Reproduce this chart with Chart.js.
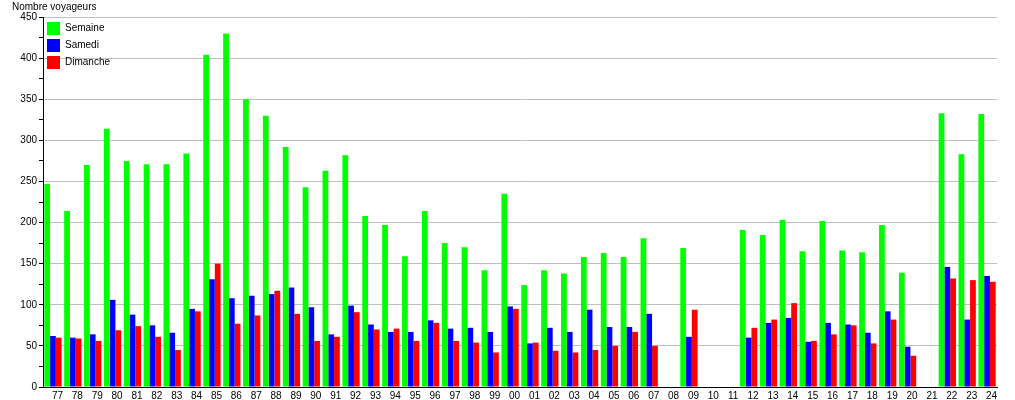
<!DOCTYPE html>
<html>
<head>
<meta charset="utf-8">
<script src="https://cdn.jsdelivr.net/npm/chart.js@4/dist/chart.umd.min.js"></script>
<style>
    body { margin: 0; background: #fff; }
    #wrap { position: relative; width: 1015px; height: 400px; }
    #ytitle { position: absolute; left: 12px; top: 1px; font: 10px "Liberation Sans", Arial, sans-serif; color: #000; }
</style>
</head>
<body>
<div id="wrap">
    <canvas id="voyageChart"></canvas>
    <div id="ytitle">Nombre voyageurs</div>
</div>
<script>
// Years (two digits) on the x axis
var years = ["77", "78", "79", "80", "81", "82", "83", "84", "85", "86", "87", "88",
    "89", "90", "91", "92", "93", "94", "95", "96", "97", "98", "99", "00",
    "01", "02", "03", "04", "05", "06", "07", "08", "09", "10", "11", "12",
    "13", "14", "15", "16", "17", "18", "19", "20", "21", "22", "23", "24"];

// Number of travellers per series (null = no data that year)
var semaine = [247, 214, 270, 314, 275, 271, 271, 284, 404, 430, 350, 330,
    292, 243, 263, 282, 208, 197, 159, 214, 175, 170, 142, 235,
    124, 142, 138, 158, 163, 158, 181, null, 169, null, null, 191,
    185, 203, 165, 202, 166, 164, 197, 139, null, 333, 283, 332];
var samedi = [62, 60, 64, 106, 88, 75, 66, 95, 131, 108, 111, 113,
    121, 97, 64, 99, 76, 67, 67, 81, 71, 72, 67, 98,
    53, 72, 67, 94, 73, 73, 89, null, 61, null, null, 60,
    78, 84, 55, 78, 76, 66, 92, 49, null, 146, 82, 135];
var dimanche = [60, 59, 56, 69, 74, 61, 45, 92, 150, 77, 87, 117,
    89, 56, 61, 91, 70, 71, 56, 78, 56, 54, 42, 95,
    54, 44, 42, 45, 50, 67, 50, null, 94, null, null, 72,
    82, 102, 56, 64, 75, 53, 82, 38, null, 132, 130, 128];

var yMax = 450;

Chart.defaults.font.family = '"Liberation Sans", Arial, sans-serif';
Chart.defaults.font.size = 10;
Chart.defaults.color = "#000";

var ctx = document.getElementById("voyageChart").getContext("2d");
var voyageChart = new Chart(ctx, {
    type: "bar",
    data: {
        labels: years,
        datasets: [
            { label: "Semaine", data: semaine, backgroundColor: "#00ff00" },
            { label: "Samedi", data: samedi, backgroundColor: "#0000ff" },
            { label: "Dimanche", data: dimanche, backgroundColor: "#ff0000" },
        ],
    },
    options: {
        responsive: true,
        maintainAspectRatio: false,
        animation: false,
        datasets: {
            bar: { categoryPercentage: 0.87, barPercentage: 1.0 },
        },
        layout: {
            padding: { left: 0, right: 18, top: 17, bottom: 0 },
        },
        scales: {
            x: {
                grid: { display: true, color: "transparent", drawTicks: false },
                border: { display: true, color: "#000", width: 1 },
                ticks: { padding: 3, labelOffset: 4.5, maxRotation: 0, autoSkip: false },
                afterFit: function (scale) { scale.height = 13; },
            },
            y: {
                min: 0,
                max: yMax,
                grid: {
                    color: function (c) { return c.tick && c.tick.value % 50 === 0 ? "#c0c0c0" : "transparent"; },
                    tickColor: "#000",
                    tickLength: 4,
                },
                border: { display: true, color: "#000", width: 1 },
                ticks: {
                    stepSize: 25,
                    padding: 2,
                    callback: function (v) { return v % 50 === 0 ? v : ""; },
                },
                afterFit: function (scale) { scale.width = 43; },
            },
        },
        plugins: {
            legend: {
                position: "chartArea",
                align: "start",
                title: { display: true, text: "", padding: { top: 0, bottom: 6 } },
                labels: {
                    boxWidth: 13,
                    boxHeight: 13,
                    padding: 4,
                    font: { size: 10 },
                },
            },
            tooltip: { enabled: false },
        },
    },
});
</script>
</body>
</html>
